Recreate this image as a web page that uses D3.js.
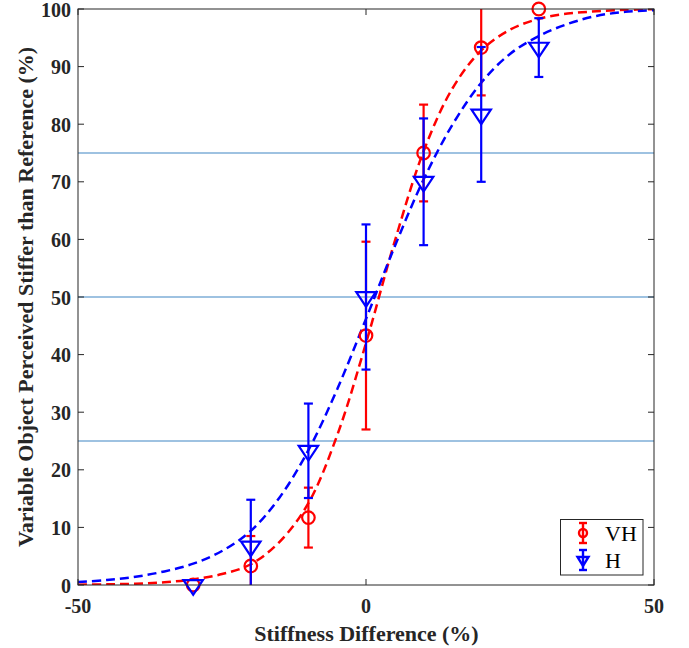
<!DOCTYPE html>
<html><head><meta charset="utf-8">
<script src="https://cdn.jsdelivr.net/npm/d3@7"></script>
<style>body{margin:0;background:#fff}svg{display:block}</style>
</head><body><svg id="c" width="689" height="648"></svg>
<script>
// ---- data ----
const stiffness = [-30, -20, -10, 0, 10, 20, 30];
const vhMean = [0, 3.3, 11.7, 43.3, 75, 93.3, 100];
const vhErr  = [0, 5.2, 5.2, 16.3, 8.4, 8.3, 0];
const hMean  = [0, 6.7, 23.3, 50, 70, 81.7, 93.3];
const hErr   = [0, 8.1, 8.2, 12.6, 11, 11.7, 5.1];
const fitX   = [-50, -45, -40, -35, -30, -25, -20, -15, -10, -5, 0, 5, 10, 15, 20, 25, 30, 35, 40, 45, 50];
const vhFit  = [0.05, 0.11, 0.23, 0.47, 0.97, 1.9, 3.6, 7.5, 14.2, 26, 42, 59.7, 75.3, 86.2, 92.8, 96.4, 98.3, 99.2, 99.6, 99.85, 99.95];
const hFit   = [0.52, 0.86, 1.43, 2.36, 3.7, 5.9, 9.4, 15.2, 23.4, 34, 46.2, 58.8, 70.4, 79.9, 87.2, 92.2, 95.3, 97.4, 98.8, 99.5, 99.8];
const refLevels = [25, 50, 75];
const xTicks = [-50, 0, 50];
const yTicks = [0, 10, 20, 30, 40, 50, 60, 70, 80, 90, 100];
const seriesNames = ["VH", "H"];
const xLabel = "Stiffness Difference (%)";
const yLabel = "Variable Object Perceived Stiffer than Reference (%)";

// ---- layout ----
const L = 78, R = 654, T = 9, B = 585;
const svg = d3.select("#c");
const x = d3.scaleLinear().domain([-50, 50]).range([L, R]);
const y = d3.scaleLinear().domain([0, 100]).range([B, T]);
const axisCol = "#262626";
const font = "'Liberation Serif','Times New Roman',serif";
const RED = "#ff0000", BLUE = "#0000ff";

svg.append("rect").attr("x", 0).attr("y", 0).attr("width", 689).attr("height", 648).attr("fill", "#fff");
svg.append("defs").append("clipPath").attr("id", "clip")
  .append("rect").attr("x", L).attr("y", T).attr("width", R - L).attr("height", B - T);

// reference lines
svg.append("g").selectAll("line").data(refLevels).join("line")
  .attr("x1", L).attr("x2", R).attr("y1", d => y(d)).attr("y2", d => y(d))
  .attr("stroke", "#3f86c4").attr("stroke-width", 1.1);

// fitted curves
const plot = svg.append("g").attr("clip-path", "url(#clip)");
function curve(vals, col) {
  const line = d3.line().x((d, i) => x(fitX[i])).y(d => y(d)).curve(d3.curveCatmullRom);
  plot.append("path").attr("d", line(vals)).attr("fill", "none")
    .attr("stroke", col).attr("stroke-width", 2.5).attr("stroke-dasharray", "9,5");
}
curve(vhFit, RED);
curve(hFit, BLUE);

// error bars + markers
const triH = 14.6, triW = 9.7;
function triPath(cx, cy, h, w) {
  return `M${cx - w},${cy - h / 3}L${cx + w},${cy - h / 3}L${cx},${cy + 2 * h / 3}Z`;
}
function series(mean, err, col, marker) {
  const g = svg.append("g");
  const gc = g.append("g").attr("clip-path", "url(#clip)");
  stiffness.forEach((sx, i) => {
    if (err[i] <= 0) return;
    const px = x(sx), y1 = y(mean[i] - err[i]), y2 = y(mean[i] + err[i]);
    gc.append("line").attr("x1", px).attr("x2", px).attr("y1", y1).attr("y2", y2)
      .attr("stroke", col).attr("stroke-width", 2.2);
    [y1, y2].forEach(yy => gc.append("line").attr("x1", px - 4.5).attr("x2", px + 4.5)
      .attr("y1", yy).attr("y2", yy).attr("stroke", col).attr("stroke-width", 2.2));
  });
  stiffness.forEach((sx, i) => {
    const px = x(sx), py = y(mean[i]);
    if (marker === "o") {
      g.append("circle").attr("cx", px).attr("cy", py).attr("r", 6.3)
        .attr("fill", "none").attr("stroke", col).attr("stroke-width", 2.2);
    } else {
      g.append("path").attr("d", triPath(px, py, triH, triW))
        .attr("fill", "none").attr("stroke", col).attr("stroke-width", 2.2).attr("stroke-linejoin", "miter");
    }
  });
}
series(vhMean, vhErr, RED, "o");
series(hMean, hErr, BLUE, "v");

// axes box and ticks
const ax = svg.append("g");
ax.append("rect").attr("x", L).attr("y", T).attr("width", R - L).attr("height", B - T)
  .attr("fill", "none").attr("stroke", axisCol).attr("stroke-width", 1);
const tl = 6;
yTicks.forEach(v => {
  ax.append("line").attr("x1", L).attr("x2", L + tl).attr("y1", y(v)).attr("y2", y(v)).attr("stroke", axisCol);
  ax.append("line").attr("x1", R).attr("x2", R - tl).attr("y1", y(v)).attr("y2", y(v)).attr("stroke", axisCol);
  ax.append("text").attr("x", L - 7).attr("y", y(v) + 0.5).attr("dy", "0.35em")
    .attr("text-anchor", "end").attr("font-family", font).attr("font-weight", "bold")
    .attr("font-size", 20).attr("fill", axisCol).text(v);
});
xTicks.forEach(v => {
  ax.append("line").attr("x1", x(v)).attr("x2", x(v)).attr("y1", B).attr("y2", B - tl).attr("stroke", axisCol);
  ax.append("line").attr("x1", x(v)).attr("x2", x(v)).attr("y1", T).attr("y2", T + tl).attr("stroke", axisCol);
  ax.append("text").attr("x", x(v)).attr("y", 605.5).attr("dy", "0.35em")
    .attr("text-anchor", "middle").attr("font-family", font).attr("font-weight", "bold")
    .attr("font-size", 20).attr("fill", axisCol).text(v);
});
ax.append("text").attr("x", (L + R) / 2 + 0.5).attr("y", 633).attr("dy", "0.35em")
  .attr("text-anchor", "middle").attr("font-family", font).attr("font-weight", "bold")
  .attr("font-size", 22).attr("fill", axisCol).text(xLabel);
ax.append("text").attr("transform", `translate(25,${(T + B) / 2}) rotate(-90)`).attr("dy", "0.35em")
  .attr("text-anchor", "middle").attr("font-family", font).attr("font-weight", "bold")
  .attr("font-size", 22).attr("fill", axisCol).text(yLabel);

// legend
const lg = svg.append("g");
lg.append("rect").attr("x", 560.5).attr("y", 519.5).attr("width", 82.5).attr("height", 55.5)
  .attr("fill", "#fff").attr("stroke", axisCol).attr("stroke-width", 1);
const legY = [533, 560];
const cols = [RED, BLUE];
seriesNames.forEach((name, i) => {
  const cx = 583, cy = legY[i], col = cols[i];
  lg.append("line").attr("x1", cx).attr("x2", cx).attr("y1", cy - 10).attr("y2", cy + 10).attr("stroke", col).attr("stroke-width", 2.4);
  [cy - 10, cy + 10].forEach(yy => lg.append("line").attr("x1", cx - 4).attr("x2", cx + 4).attr("y1", yy).attr("y2", yy).attr("stroke", col).attr("stroke-width", 2.4));
  if (i === 0) lg.append("circle").attr("cx", cx).attr("cy", cy).attr("r", 4).attr("fill", "none").attr("stroke", col).attr("stroke-width", 2.4);
  else lg.append("path").attr("d", triPath(cx, cy, 9, 5.5)).attr("fill", "none").attr("stroke", col).attr("stroke-width", 2.4);
  lg.append("text").attr("x", 605).attr("y", cy).attr("dy", "0.35em")
    .attr("font-family", font).attr("font-size", 22).attr("fill", "#000").text(name);
});
</script></body></html>
